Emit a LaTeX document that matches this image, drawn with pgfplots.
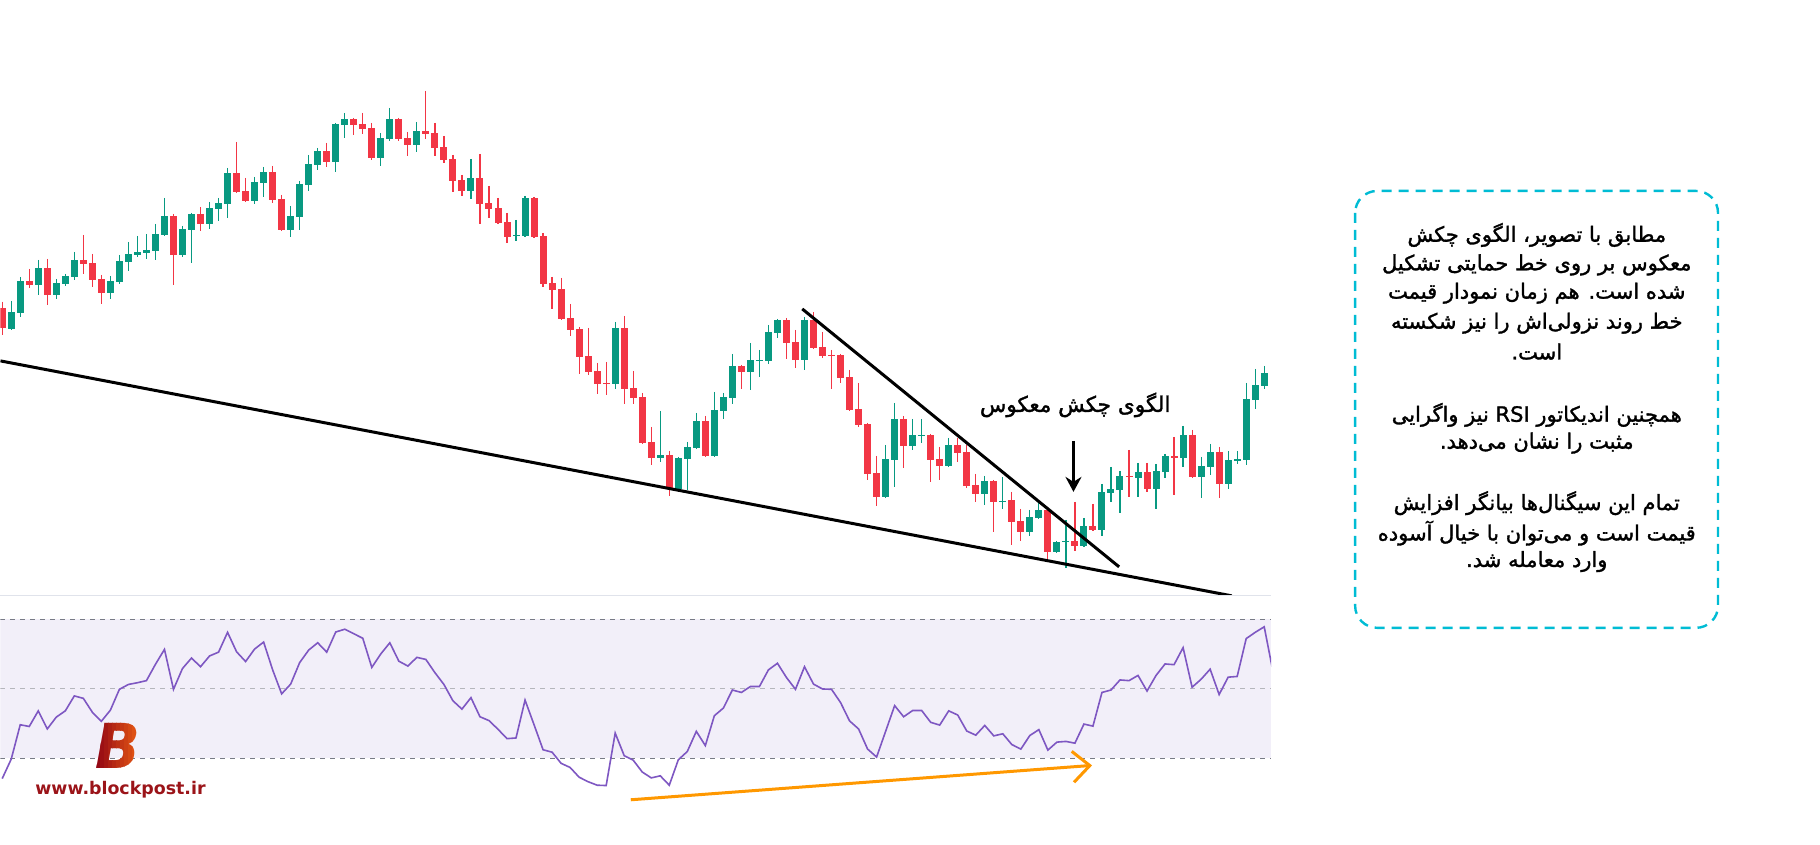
\documentclass[border=0pt]{standalone}
\usepackage{pgfplots}
\pgfplotsset{compat=1.18}
\usepackage{pgfplotstable}
\usepgfplotslibrary{fillbetween}
\usetikzlibrary{arrows.meta}
\usepackage{fontspec}
\newfontfamily\fa[Script=Arabic, FakeBold=1.5]{DejaVu Sans}
\newfontfamily\logofont{DejaVu Sans}
\TeXXeTstate=1

\definecolor{bullc}{RGB}{8,153,129}
\definecolor{bearc}{RGB}{242,54,69}
\definecolor{rsic}{RGB}{126,87,194}
\definecolor{bandc}{RGB}{242,239,249}
\definecolor{levelc}{RGB}{120,123,134}
\definecolor{sepc}{RGB}{224,227,235}
\definecolor{osc}{RGB}{252,200,204}
\definecolor{divc}{RGB}{255,152,0}
\definecolor{boxc}{RGB}{0,188,212}
\definecolor{logoL}{RGB}{140,0,20}
\definecolor{logoR}{RGB}{238,96,20}
\definecolor{logoc}{RGB}{155,20,25}

% candles: screen level (larger = lower on the chart), open high low close
\pgfplotstableread{
k o h l c
0 308 301.7 335 328.3
1 328.7 301 329.7 312
2 312.7 277 316.7 281
3 281 269 287.7 284.7
4 284.7 260 295 268
5 268 259 305 295
6 295 279 299 283
7 284 274 285.7 276
8 276.7 252 280 260
9 260 235 274 263.7
10 263 254 286.7 280
11 279 275 304 292.7
12 292.7 276 299 281
13 281.7 255 284 261
14 262 242 271 254
15 255 236 257 252
16 253 234 259 250
17 251 224 260 234
18 235 198 236 216
19 216 214 285 255
20 255 226 257 229
21 230 213 263 214
22 214 207 231 224
23 224 202 229 208
24 209 198 221 203
25 204 168 218 173
26 173 142 193 192
27 191 178 202 201
28 201 177 204 182
29 183 167 197 172
30 172 166 203 200
31 199 195 231 230
32 230 206 237 216
33 217 181 230 184
34 185 155 191 164
35 165 148 170 151
36 151 143 167 162
37 162 123 172 124
38 125 113 138 119
39 119 118 135 125
40 124 113 134 129
41 128 123 160 158
42 158 133 166 138
43 139 108 141 119
44 119 118 141 139
45 138 132 156 145
46 145 122 152 131
47 131 91 139 134
48 133 123 156 148
49 147 136 163 160
50 159 155 192 181
51 180 175 196 191
52 191 159 199 178
53 178 154 224 204
54 203 186 218 209
55 208 198 224 223
56 222 213 243 237
57 236 220 241 235
58 236 196 237 198
59 198 197 238 237
60 236 233 287 284
61 283 277 309 290
62 289 278 320 319
63 318 304 336 330
64 329 327 374 357
65 356 328 375 372
66 371 363 394 384
67 383 362 395 384
68 384 322 389 328
69 328 316 404 389
70 388 371 404 398
71 397 393 444 443
72 442 427 465 458
73 458 411 462 455
74 455 451 496 489
75 489 457 492 458
76 459 442 490 447
77 448 413 449 421
78 421 416 457 456
79 456 392 457 410
80 411 393 419 397
81 398 354 404 366
82 366 365 389 372
83 372 343 390 360
84 361 350 377 360
85 361 325 364 332
86 333 319 338 320
87 320 318 359 343
88 342 330 368 360
89 360 317 370 320
90 320 312 349 348
91 347 332 358 356
92 355 350 389 356
93 355 354 383 378
94 377 370 411 410
95 409 383 427 425
96 424 423 480 474
97 473 456 506 497
98 497 445 498 459
99 460 403 487 419
100 419 416 468 446
101 446 419 450 435
102 436 419 443 435
103 435 434 482 460
104 459 447 480 466
105 466 438 467 445
106 445 438 462 453
107 452 445 488 486
108 485 474 502 494
109 494 476 505 481
110 481 480 532 502
111 501.7 477 509 500.7
112 500 492 545 522
113 521 509 541 532
114 532 510 536 517
115 518 502 519 510
116 510 509 560 552
117 552 541 553 542
118 542 520 568 541
119 541 502 551 546
120 546 518 547 526
121 526 504 531 530
122 530 484 536 492
123 493 467 502 489
124 490 471 513 476
125 476 450 497 477
126 478 463 497 472
127 472 463 492 489
128 489 464 509 471
129 472 454 478 456
130 456 437 495 458
131 458 426 467 435
132 435 430 478 477
133 477 457 498 466
134 467 444 475 452
135 452 447 498 484
136 484 451 489 460
137 461 451 464 459
138 460 383 465 399
139 400 369 409 385
140 386 366 389 373
}\candles

% RSI (14)
\pgfplotstableread{
j rsi
0 24.1
1 29.7
2 39.6
3 39.1
4 43.6
5 38.4
6 41.8
7 43.6
8 47.9
9 47.2
10 43.2
11 40.6
12 43.8
13 49.8
14 51.2
15 51.7
16 52.3
17 57.0
18 61.3
19 49.8
20 55.8
21 58.8
22 56.3
23 59.4
24 60.5
25 66.2
26 60.6
27 57.8
28 61.4
29 63.4
30 55.4
31 48.5
32 51.3
33 57.5
34 61.1
35 63.2
36 60.5
37 66.3
38 67.1
39 65.8
40 64.5
41 56.1
42 60.0
43 63.2
44 57.9
45 56.5
46 59.0
47 58.4
48 54.6
49 51.2
50 46.5
51 44.1
52 47.4
53 41.9
54 40.8
55 38.3
56 35.6
57 35.8
58 46.7
59 39.6
60 32.4
61 31.7
62 28.5
63 27.3
64 24.5
65 23.2
66 22.2
67 22.1
68 37.2
69 30.7
70 29.4
71 26.0
72 24.3
73 24.9
74 22.2
75 29.5
76 31.9
77 37.7
78 33.6
79 42.2
80 44.4
81 49.6
82 48.9
83 50.6
84 50.6
85 55.4
86 57.3
87 53.2
88 49.8
89 56.3
90 51.3
91 49.9
92 49.8
93 46.0
94 40.7
95 38.4
96 32.6
97 30.3
98 37.7
99 45.1
100 41.9
101 43.7
102 43.7
103 40.3
104 39.5
105 43.6
106 42.4
107 37.8
108 36.6
109 39.4
110 36.4
111 37.0
112 33.9
113 32.6
114 36.5
115 38.2
116 32.3
117 34.6
118 34.8
119 34.3
120 39.8
121 39.2
122 48.9
123 49.6
124 52.5
125 52.3
126 53.8
127 49.3
128 53.8
129 57.1
130 56.9
131 61.8
132 50.4
133 52.7
134 55.6
135 48.3
136 53.3
137 53.5
138 64.4
139 66.2
140 67.8
141 54.5
}\rsitable

\pgfplotstablegetrowsof{\candles}
\pgfmathtruncatemacro{\lastrow}{\pgfplotsretval-1}

\begin{document}
\begin{tikzpicture}
\begin{scope}[x=0.5pt,y=-0.5pt]
  \fill[white] (0,0) rectangle (1820,845);
  \path[use as bounding box] (0,0) rectangle (1820,845);
\end{scope}

% price pane
\begin{axis}[
  at={(0pt,0pt)}, anchor=north west,
  scale only axis, width=635.5pt, height=298pt,
  xmin=-0.19, xmax=140.77, ymin=0, ymax=596, y dir=reverse,
  hide axis, clip=true]
  \pgfplotsforeachungrouped \r in {0,...,\lastrow}{%
    \pgfplotstablegetelem{\r}{k}\of\candles \let\ck\pgfplotsretval
    \pgfplotstablegetelem{\r}{o}\of\candles \let\co\pgfplotsretval
    \pgfplotstablegetelem{\r}{h}\of\candles \let\ch\pgfplotsretval
    \pgfplotstablegetelem{\r}{l}\of\candles \let\cl\pgfplotsretval
    \pgfplotstablegetelem{\r}{c}\of\candles \let\cc\pgfplotsretval
    \pgfmathsetmacro\xl{\ck-0.388}%
    \pgfmathsetmacro\xr{\ck+0.388}%
    \ifdim\cc pt<\co pt \def\ccol{bullc}\else\def\ccol{bearc}\fi
    \edef\candle{%
      \noexpand\draw[\ccol, line width=0.6pt] (axis cs:\ck,\ch) -- (axis cs:\ck,\cl);
      \noexpand\fill[\ccol] (axis cs:\xl,\co) rectangle (axis cs:\xr,\cc);
    }%
    \candle
  }
  % support line and falling trend line
  \addplot[black, line width=1.5pt] coordinates {(-0.19,361) (136.4,596)};
  \addplot[black, line width=1.5pt] coordinates {(88.75,309) (123.9,567)};
  % pointer to the pattern
  \addplot[black, line width=1.3pt, -{Stealth[length=7.5pt, width=8pt, inset=2.5pt]}]
    coordinates {(118.84,441) (118.84,492)};
\end{axis}

% RSI pane
\begin{axis}[
  at={(0pt,-298pt)}, anchor=north west,
  scale only axis, width=635.5pt, height=124.5pt,
  xmin=-0.19, xmax=140.77, ymin=5.05, ymax=76.71,
  hide axis, clip=true]
  \fill[bandc] (axis cs:-0.19,30) rectangle (axis cs:140.77,70);
  \draw[levelc, line width=0.5pt, dash pattern=on 2.5pt off 2.5pt] (axis cs:-0.19,70) -- (axis cs:140.77,70);
  \draw[levelc!55, line width=0.5pt, dash pattern=on 2.5pt off 2.5pt] (axis cs:-0.19,50) -- (axis cs:140.77,50);
  \draw[levelc, line width=0.5pt, dash pattern=on 2.5pt off 2.5pt] (axis cs:-0.19,30) -- (axis cs:140.77,30);
  \addplot[draw=none, name path=rsimin] table[x=j, y expr={min(\thisrow{rsi},30)}] {\rsitable};
  \addplot[draw=none, name path=thirty] coordinates {(-1,30) (142,30)};
  \addplot[draw=none, top color=white, bottom color=osc] fill between[of=rsimin and thirty];
  \addplot[rsic, line width=0.8pt] table[x=j, y=rsi] {\rsitable};
  % bullish divergence
  \addplot[divc, line width=1.5pt, -{Straight Barb[length=8.5pt, width=15.5pt]}]
    coordinates {(69.73,18.0) (120.9,27.9)};
\end{axis}

\begin{scope}[x=0.5pt,y=-0.5pt]
  \draw[sepc, line width=0.5pt] (0,596) -- (1271,596);
  \node[font=\fa\fontsize{10.8}{13}\selectfont] at (1075,405) {\beginR الگوی چکش معکوس\endR};

  % note box
  \draw[boxc, line width=1.2pt, dash pattern=on 5pt off 3.5pt, rounded corners=11pt]
    (1355,191) rectangle (1718,628);
  \begin{scope}[every node/.style={font=\fa\fontsize{10.5}{13}\selectfont, anchor=center}]
    \node at (1536.7,235)   {\beginR مطابق با تصویر، الگوی چکش\endR};
    \node at (1536.7,265)   {\beginR معکوس بر روی خط حمایتی تشکیل\endR};
    \node at (1536.7,293.3) {\beginR شده است. هم زمان نمودار قیمت\endR};
    \node at (1536.7,323.3) {\beginR خط روند نزولی^^^^200cاش را نیز شکسته\endR};
    \node at (1536.7,351.7) {\beginR است.\endR};
    \node at (1536.7,415)   {\beginR همچنین اندیکاتور RSI نیز واگرایی\endR};
    \node at (1536.7,443.3) {\beginR مثبت را نشان می^^^^200cدهد.\endR};
    \node at (1536.7,503.3) {\beginR تمام این سیگنال^^^^200cها بیانگر افزایش\endR};
    \node at (1536.7,533.3) {\beginR قیمت است و می^^^^200cتوان با خیال آسوده\endR};
    \node at (1536.7,561.7) {\beginR وارد معامله شد.\endR};
  \end{scope}

  % logo
  \foreach \i in {0,...,12}{
    \pgfmathsetmacro\mix{100-\i*100/12}
    \begin{scope}
      \clip (92+\i*4,712) rectangle (96.3+\i*4,778);
      \node[font=\logofont\bfseries\itshape\fontsize{31}{31}\selectfont,
            text=logoL!\mix!logoR, inner sep=0pt, xscale=0.95] at (117.5,746) {B};
    \end{scope}
  }
  \node[font=\logofont\bfseries\fontsize{8.7}{10}\selectfont, text=logoc, anchor=base]
    at (120,795) {www.blockpost.ir};
\end{scope}
\end{tikzpicture}
\end{document}
